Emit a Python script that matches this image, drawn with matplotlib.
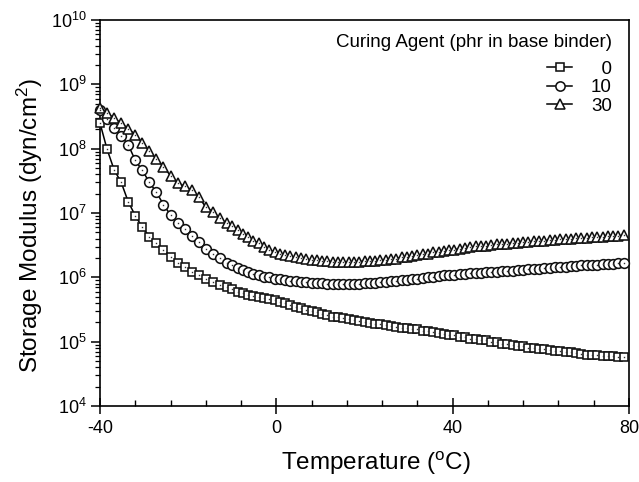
import matplotlib
matplotlib.use("Agg")
import matplotlib.pyplot as plt
from matplotlib.ticker import LogLocator, MultipleLocator, NullFormatter

plt.rcParams['font.family'] = ['Liberation Sans', 'DejaVu Sans']
plt.rcParams['mathtext.fontset'] = 'custom'
plt.rcParams['mathtext.rm'] = 'Liberation Sans'
plt.rcParams['mathtext.default'] = 'regular'
plt.rcParams['axes.unicode_minus'] = False

# ---- data ----
temperature = [
    -40.0, -38.4, -36.8, -35.2, -33.6, -32.0, -30.4, -28.8, -27.2, -25.6,
    -24.0, -22.4, -20.8, -19.2, -17.6, -16.0, -14.4, -12.8, -11.2,
    -10.0, -8.8, -7.6, -6.4, -5.2, -4.0, -2.8, -1.6, -0.4, 0.8,
    2.0, 3.2, 4.4, 5.6, 6.8, 8.0, 9.2, 10.4, 11.6, 12.8,
    14.0, 15.2, 16.4, 17.6, 18.8, 20.0, 21.2, 22.4, 23.6, 24.8,
    26.0, 27.2, 28.4, 29.6, 30.8, 32.0, 33.2, 34.4, 35.6, 36.8,
    38.0, 39.2, 40.4, 41.6, 42.8, 44.0, 45.2, 46.4, 47.6, 48.8,
    50.0, 51.2, 52.4, 53.6, 54.8, 56.0, 57.2, 58.4, 59.6, 60.8,
    62.0, 63.2, 64.4, 65.6, 66.8, 68.0, 69.2, 70.4, 71.6, 72.8,
    74.0, 75.2, 76.4, 77.6, 78.8,
]

modulus_0phr = [
    2.5e8, 9.8e7, 4.7e7, 3.0e7, 1.5e7, 9.1e6, 6.0e6, 4.3e6, 3.4e6, 2.7e6,
    2.1e6, 1.7e6, 1.45e6, 1.23e6, 1.1e6, 9.5e5, 8.5e5, 7.6e5, 7.1e5,
    6.5e5, 6.0e5, 5.75e5, 5.4e5, 5.1e5, 4.9e5, 4.7e5, 4.6e5, 4.4e5, 4.2e5,
    4.0e5, 3.7e5, 3.5e5, 3.3e5, 3.16e5, 3.0e5, 2.9e5, 2.7e5, 2.6e5, 2.45e5,
    2.4e5, 2.3e5, 2.24e5, 2.14e5, 2.1e5, 2.04e5, 1.95e5, 1.9e5, 1.86e5, 1.82e5,
    1.74e5, 1.7e5, 1.66e5, 1.62e5, 1.58e5, 1.55e5, 1.48e5, 1.45e5, 1.41e5, 1.38e5,
    1.32e5, 1.29e5, 1.26e5, 1.2e5, 1.17e5, 1.12e5, 1.1e5, 1.07e5, 1.05e5, 1.0e5,
    9.8e4, 9.3e4, 9.1e4, 8.9e4, 8.7e4, 8.5e4, 8.1e4, 7.9e4, 7.8e4, 7.6e4,
    7.4e4, 7.2e4, 7.1e4, 6.9e4, 6.8e4, 6.6e4, 6.5e4, 6.3e4, 6.3e4, 6.2e4,
    6.0e4, 5.9e4, 5.9e4, 5.75e4, 5.75e4,
]

modulus_10phr = [
    4.0e8, 2.9e8, 2.1e8, 1.58e8, 1.15e8, 6.6e7, 4.6e7, 3.0e7, 2.1e7, 1.35e7,
    9.3e6, 7.1e6, 5.6e6, 4.4e6, 3.5e6, 2.8e6, 2.34e6, 2.0e6, 1.7e6,
    1.55e6, 1.41e6, 1.29e6, 1.2e6, 1.12e6, 1.07e6, 1.02e6, 1.0e6, 9.5e5, 9.3e5,
    9.1e5, 8.9e5, 8.7e5, 8.6e5, 8.5e5, 8.3e5, 8.2e5, 8.1e5, 8.0e5, 7.9e5,
    7.9e5, 7.9e5, 7.9e5, 7.9e5, 8.0e5, 8.1e5, 8.2e5, 8.3e5, 8.5e5, 8.6e5,
    8.7e5, 8.9e5, 9.0e5, 9.1e5, 9.3e5, 9.5e5, 9.8e5, 1.0e6, 1.02e6, 1.05e6,
    1.07e6, 1.08e6, 1.1e6, 1.12e6, 1.14e6, 1.15e6, 1.16e6, 1.17e6, 1.2e6, 1.22e6,
    1.23e6, 1.24e6, 1.26e6, 1.27e6, 1.29e6, 1.32e6, 1.33e6, 1.35e6, 1.36e6, 1.38e6,
    1.41e6, 1.43e6, 1.45e6, 1.46e6, 1.48e6, 1.51e6, 1.53e6, 1.55e6, 1.57e6, 1.58e6,
    1.6e6, 1.62e6, 1.64e6, 1.66e6, 1.68e6,
]

modulus_30phr = [
    4.3e8, 3.55e8, 2.95e8, 2.5e8, 2.04e8, 1.66e8, 1.23e8, 9.1e7, 6.9e7, 5.25e7,
    3.8e7, 2.95e7, 2.6e7, 2.3e7, 1.78e7, 1.23e7, 1.05e7, 8.3e6, 6.9e6,
    6.2e6, 5.4e6, 4.8e6, 4.2e6, 3.7e6, 3.4e6, 3.0e6, 2.7e6, 2.45e6, 2.34e6,
    2.24e6, 2.14e6, 2.04e6, 2.0e6, 1.9e6, 1.86e6, 1.84e6, 1.82e6, 1.78e6, 1.76e6,
    1.74e6, 1.74e6, 1.74e6, 1.74e6, 1.76e6, 1.78e6, 1.78e6, 1.82e6, 1.84e6, 1.86e6,
    1.9e6, 1.95e6, 2.04e6, 2.09e6, 2.14e6, 2.19e6, 2.29e6, 2.34e6, 2.45e6, 2.5e6,
    2.57e6, 2.63e6, 2.7e6, 2.75e6, 2.88e6, 2.95e6, 3.02e6, 3.05e6, 3.1e6, 3.16e6,
    3.24e6, 3.31e6, 3.35e6, 3.39e6, 3.47e6, 3.5e6, 3.55e6, 3.63e6, 3.67e6, 3.72e6,
    3.76e6, 3.8e6, 3.9e6, 3.94e6, 4.0e6, 4.03e6, 4.07e6, 4.12e6, 4.17e6, 4.22e6,
    4.27e6, 4.32e6, 4.37e6, 4.42e6, 4.47e6,
]

series_labels = ['  0', '10', '30']
series_markers = ['s', 'o', '^']
series_sizes = [6.4, 7.0, 7.8]
legend_title = 'Curing Agent (phr in base binder)'
x_label = r'Temperature ($\mathregular{^o}$C)'
y_label = r'Storage Modulus (dyn/cm$\mathregular{^2}$)'
x_ticks = [-40, 0, 40, 80]

# ---- figure ----
fig = plt.figure(figsize=(6.39, 4.82), dpi=100)
ax = fig.add_axes([100 / 639, 1 - 406 / 482, 529 / 639, 386 / 482])

all_series = [modulus_0phr, modulus_10phr, modulus_30phr]
for vals, lab, mk, ms in zip(all_series, series_labels, series_markers, series_sizes):
    ax.plot(temperature, vals, linestyle='-', color='black', linewidth=1.1,
            marker=mk, markersize=ms, markerfacecolor='white',
            markeredgecolor='#111111', markeredgewidth=1.15, label=lab,
            clip_on=False, zorder=3)
    ax.plot(temperature, vals, linestyle='none', marker='s', markersize=1.0,
            color='#333333', markeredgewidth=0, clip_on=False, zorder=4)

ax.set_yscale('log')
ax.set_ylim(1e4, 1e10)
ax.set_xlim(-40, 80)
ax.set_xticks(x_ticks)
ax.xaxis.set_minor_locator(MultipleLocator(8))
ax.yaxis.set_major_locator(LogLocator(base=10, numticks=20))
ax.yaxis.set_minor_locator(LogLocator(base=10, subs=range(2, 10), numticks=100))
ax.yaxis.set_minor_formatter(NullFormatter())

for sp in ax.spines.values():
    sp.set_linewidth(1.2)

ax.tick_params(axis='y', which='major', direction='out', length=6.5, width=1.1,
               labelsize=13, pad=3)
ax.tick_params(axis='y', which='minor', direction='out', length=3.5, width=0.9)
ax.tick_params(axis='x', which='major', direction='inout', length=11, width=1.1,
               labelsize=13, pad=4.5)
ax.tick_params(axis='x', which='minor', direction='in', length=4, width=1.0)

ax.set_xlabel(x_label, fontsize=17.5)
ax.set_ylabel(y_label, fontsize=17.5)
ax.xaxis.set_label_coords(0.522, -0.113)
ax.yaxis.set_label_coords(-0.104, 0.469)

ax.text(0.968, 0.943, legend_title, transform=ax.transAxes, ha='right',
        va='center', fontsize=13.5)
leg = ax.legend(loc='upper right', bbox_to_anchor=(0.968, 0.895), frameon=False,
                fontsize=13.5, handlelength=1.35, handletextpad=1.0,
                labelspacing=0.08, borderaxespad=0.0, borderpad=0.0,
                markerscale=0.95)

fig.savefig('out.png', dpi=100)
